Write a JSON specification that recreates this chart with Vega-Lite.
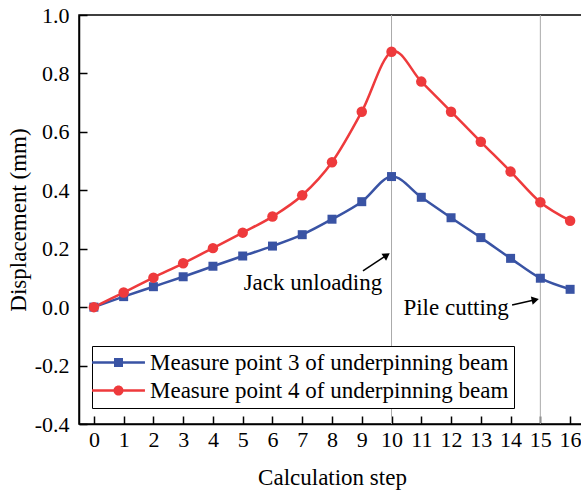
{
  "$schema": "https://vega.github.io/schema/vega-lite/v6.json",
  "width": 506,
  "height": 409,
  "autosize": {"type": "none"},
  "padding": {"left": 79, "top": 15, "right": 0, "bottom": 67},
  "background": "white",
  "config": {
    "font": "Liberation Serif",
    "view": {"stroke": "black", "strokeWidth": 1.5},
    "axis": {
      "grid": false,
      "domainColor": "black",
      "domainWidth": 1.5,
      "tickColor": "black",
      "tickWidth": 1.5,
      "labelColor": "black",
      "titleColor": "black",
      "labelFont": "Liberation Serif",
      "titleFont": "Liberation Serif",
      "labelFontSize": 22,
      "titleFontSize": 23,
      "titleFontWeight": "normal"
    },
    "axisX": {
      "tickCount": 17,
      "labelOverlap": false,
      "labelFlush": false,
      "tickSize": -8,
      "labelPadding": 13,
      "titlePadding": 16
    }
  },
  "datasets": {
    "series": [
      {"step": 0, "disp": 0.0, "series": "Measure point 3 of underpinning beam"},
      {"step": 1, "disp": 0.036, "series": "Measure point 3 of underpinning beam"},
      {"step": 2, "disp": 0.07, "series": "Measure point 3 of underpinning beam"},
      {"step": 3, "disp": 0.104, "series": "Measure point 3 of underpinning beam"},
      {"step": 4, "disp": 0.14, "series": "Measure point 3 of underpinning beam"},
      {"step": 5, "disp": 0.175, "series": "Measure point 3 of underpinning beam"},
      {"step": 6, "disp": 0.209, "series": "Measure point 3 of underpinning beam"},
      {"step": 7, "disp": 0.248, "series": "Measure point 3 of underpinning beam"},
      {"step": 8, "disp": 0.301, "series": "Measure point 3 of underpinning beam"},
      {"step": 9, "disp": 0.361, "series": "Measure point 3 of underpinning beam"},
      {"step": 10, "disp": 0.447, "series": "Measure point 3 of underpinning beam"},
      {"step": 11, "disp": 0.376, "series": "Measure point 3 of underpinning beam"},
      {"step": 12, "disp": 0.306, "series": "Measure point 3 of underpinning beam"},
      {"step": 13, "disp": 0.238, "series": "Measure point 3 of underpinning beam"},
      {"step": 14, "disp": 0.167, "series": "Measure point 3 of underpinning beam"},
      {"step": 15, "disp": 0.099, "series": "Measure point 3 of underpinning beam"},
      {"step": 16, "disp": 0.061, "series": "Measure point 3 of underpinning beam"},
      {"step": 0, "disp": 0.0, "series": "Measure point 4 of underpinning beam"},
      {"step": 1, "disp": 0.05, "series": "Measure point 4 of underpinning beam"},
      {"step": 2, "disp": 0.101, "series": "Measure point 4 of underpinning beam"},
      {"step": 3, "disp": 0.15, "series": "Measure point 4 of underpinning beam"},
      {"step": 4, "disp": 0.202, "series": "Measure point 4 of underpinning beam"},
      {"step": 5, "disp": 0.255, "series": "Measure point 4 of underpinning beam"},
      {"step": 6, "disp": 0.31, "series": "Measure point 4 of underpinning beam"},
      {"step": 7, "disp": 0.383, "series": "Measure point 4 of underpinning beam"},
      {"step": 8, "disp": 0.496, "series": "Measure point 4 of underpinning beam"},
      {"step": 9, "disp": 0.669, "series": "Measure point 4 of underpinning beam"},
      {"step": 10, "disp": 0.874, "series": "Measure point 4 of underpinning beam"},
      {"step": 11, "disp": 0.772, "series": "Measure point 4 of underpinning beam"},
      {"step": 12, "disp": 0.669, "series": "Measure point 4 of underpinning beam"},
      {"step": 13, "disp": 0.566, "series": "Measure point 4 of underpinning beam"},
      {"step": 14, "disp": 0.464, "series": "Measure point 4 of underpinning beam"},
      {"step": 15, "disp": 0.359, "series": "Measure point 4 of underpinning beam"},
      {"step": 16, "disp": 0.296, "series": "Measure point 4 of underpinning beam"}
    ],
    "events": [
      {"step": 10, "event": "Jack unloading"},
      {"step": 15, "event": "Pile cutting"}
    ],
    "notes": [
      {"event": "Jack unloading", "tx": 7.36, "ty": 0.083, "ax": 9.04, "ay": 0.124, "hx": 9.84, "hy": 0.178},
      {"event": "Pile cutting", "tx": 12.17, "ty": -0.003, "ax": 14.05, "ay": 0.007, "hx": 14.83, "hy": 0.025}
    ]
  },
  "layer": [
    {
      "data": {"name": "events"},
      "mark": {"type": "rule", "color": "#aaaaaa", "strokeWidth": 1},
      "encoding": {
        "x": {
          "field": "step",
          "type": "quantitative",
          "scale": {"domain": [-0.5, 16.5], "nice": false, "zero": false},
          "axis": {
            "title": "Calculation step",
            "values": [0, 1, 2, 3, 4, 5, 6, 7, 8, 9, 10, 11, 12, 13, 14, 15, 16],
            "tickCount": 17,
            "format": "d",
            "labelOverlap": false,
            "labelFlush": false
          }
        }
      }
    },
    {
      "data": {"name": "series"},
      "mark": {"type": "line", "interpolate": "cardinal", "strokeWidth": 2.5},
      "encoding": {
        "x": {
          "field": "step",
          "type": "quantitative",
          "axis": {
            "title": "Calculation step",
            "values": [0, 1, 2, 3, 4, 5, 6, 7, 8, 9, 10, 11, 12, 13, 14, 15, 16],
            "tickCount": 17,
            "format": "d",
            "labelOverlap": false,
            "labelFlush": false
          }
        },
        "y": {
          "field": "disp",
          "type": "quantitative",
          "scale": {"domain": [-0.4, 1.0], "nice": false, "zero": false},
          "axis": {
            "title": "Displacement (mm)",
            "values": [-0.4, -0.3, -0.2, -0.1, 0, 0.1, 0.2, 0.3, 0.4, 0.5, 0.6, 0.7, 0.8, 0.9, 1.0],
            "labelExpr": "abs(round(datum.value * 10)) % 2 == 1 ? '' : (datum.value < -0.001 ? '-' : '') + format(abs(datum.value), '.1f')",
            "labelOverlap": false,
            "tickSize": {"condition": {"test": "abs(round(datum.value * 10)) % 2 == 1", "value": -4}, "value": -8},
            "labelPadding": 18,
            "titlePadding": 4
          }
        },
        "color": {
          "field": "series",
          "type": "nominal",
          "scale": {
            "domain": ["Measure point 3 of underpinning beam", "Measure point 4 of underpinning beam"],
            "range": ["#3953a4", "#ee3a3c"]
          },
          "legend": {
            "title": null,
            "orient": "none",
            "legendX": 13,
            "legendY": 331,
            "strokeColor": "black",
            "fillColor": "white",
            "padding": 5,
            "labelFont": "Liberation Serif",
            "labelFontSize": 23,
            "labelColor": "black",
            "labelLimit": 0,
            "rowPadding": 4,
            "symbolSize": 175,
            "symbolOpacity": 1,
            "symbolStrokeWidth": 0,
            "symbolOffset": 10,
            "labelOffset": 20
          }
        }
      }
    },
    {
      "data": {"name": "series"},
      "mark": {"type": "point", "filled": true, "opacity": 0, "size": 175},
      "encoding": {
        "x": {"field": "step", "type": "quantitative"},
        "y": {"field": "disp", "type": "quantitative"},
        "color": {"field": "series", "type": "nominal", "legend": null},
        "shape": {
          "field": "series",
          "type": "nominal",
          "scale": {
            "domain": ["Measure point 3 of underpinning beam", "Measure point 4 of underpinning beam"],
            "range": [
              "M-4,-0.19H4V0.19H-4ZM-0.68,-0.68H0.68V0.68H-0.68Z",
              "M-4,-0.19H4V0.19H-4ZM-0.76,0A0.76,0.76 0 1,1 0.76,0A0.76,0.76 0 1,1 -0.76,0Z"
            ]
          },
          "legend": null
        }
      }
    },
    {
      "data": {"name": "series"},
      "transform": [{"filter": "datum.series === 'Measure point 3 of underpinning beam'"}],
      "mark": {"type": "point", "shape": "square", "filled": true, "opacity": 1, "size": 81, "color": "#3953a4"},
      "encoding": {
        "x": {"field": "step", "type": "quantitative"},
        "y": {"field": "disp", "type": "quantitative"}
      }
    },
    {
      "data": {"name": "series"},
      "transform": [{"filter": "datum.series === 'Measure point 4 of underpinning beam'"}],
      "mark": {"type": "point", "shape": "circle", "filled": true, "opacity": 1, "size": 110, "color": "#ee3a3c"},
      "encoding": {
        "x": {"field": "step", "type": "quantitative"},
        "y": {"field": "disp", "type": "quantitative"}
      }
    },
    {
      "data": {"name": "notes"},
      "mark": {"type": "text", "fontSize": 23, "font": "Liberation Serif", "color": "black", "align": "center", "baseline": "middle"},
      "encoding": {
        "x": {"field": "tx", "type": "quantitative"},
        "y": {"field": "ty", "type": "quantitative"},
        "text": {"field": "event"}
      }
    },
    {
      "data": {"name": "notes"},
      "mark": {"type": "rule", "color": "black", "strokeWidth": 1.5},
      "encoding": {
        "x": {"field": "ax", "type": "quantitative"},
        "y": {"field": "ay", "type": "quantitative"},
        "x2": {"field": "hx"},
        "y2": {"field": "hy"}
      }
    },
    {
      "data": {"name": "notes"},
      "transform": [{"filter": "datum.event === 'Jack unloading'"}],
      "mark": {"type": "point", "shape": "triangle-right", "filled": true, "color": "black", "opacity": 1, "size": 70, "angle": -33.7},
      "encoding": {
        "x": {"field": "hx", "type": "quantitative"},
        "y": {"field": "hy", "type": "quantitative"}
      }
    },
    {
      "data": {"name": "notes"},
      "transform": [{"filter": "datum.event === 'Pile cutting'"}],
      "mark": {"type": "point", "shape": "triangle-right", "filled": true, "color": "black", "opacity": 1, "size": 70, "angle": -12.5},
      "encoding": {
        "x": {"field": "hx", "type": "quantitative"},
        "y": {"field": "hy", "type": "quantitative"}
      }
    }
  ]
}
